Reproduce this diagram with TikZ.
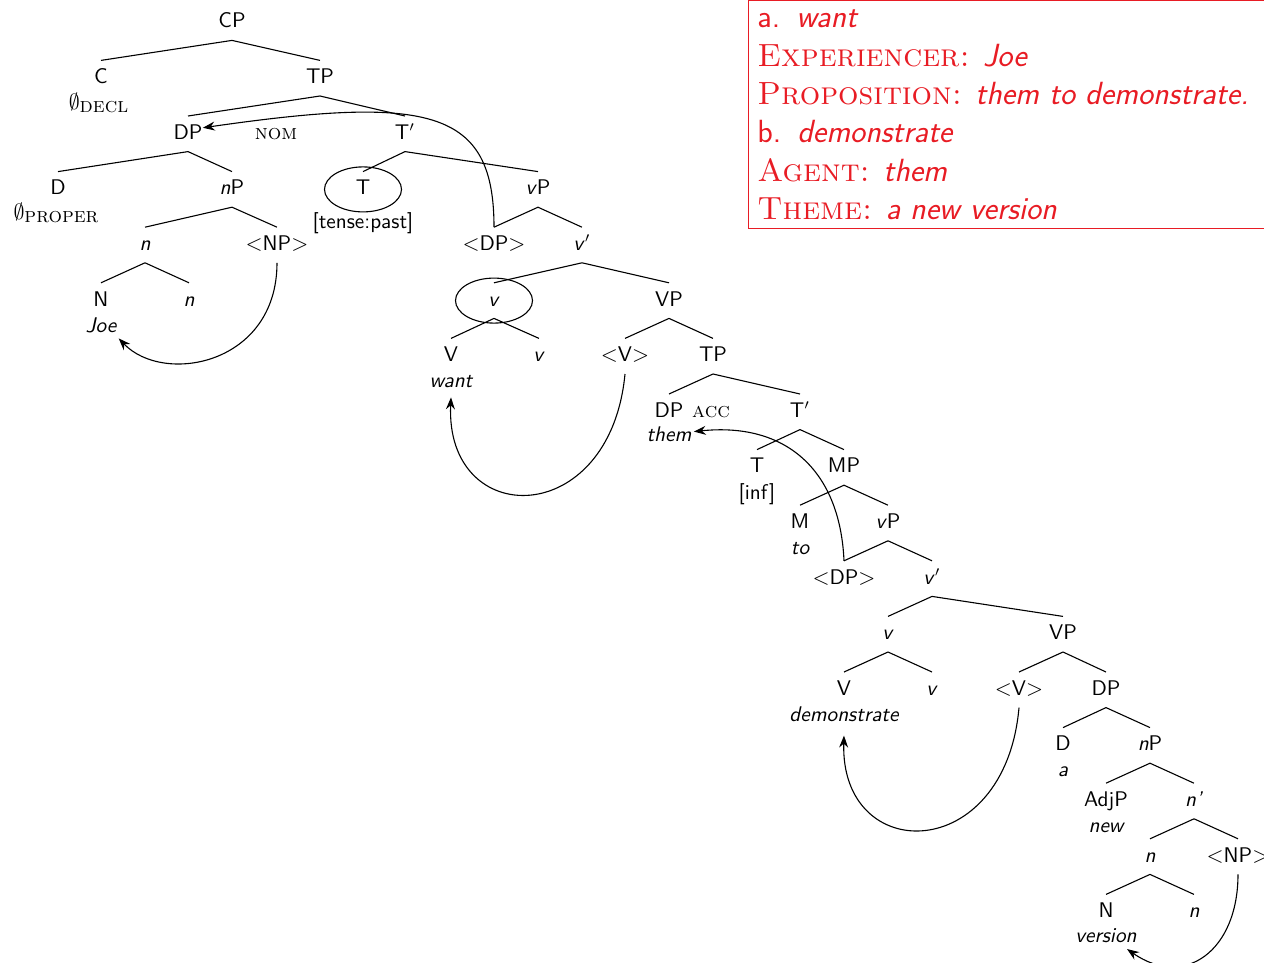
\documentclass[tikz,border=0pt]{standalone}
\usetikzlibrary{shapes.geometric,arrows.meta}
\definecolor{boxred}{RGB}{232,28,36}
\newcommand\treefont{\fontsize{10.6}{12.7}\selectfont\sffamily}
\newcommand\boxfont{\fontsize{16.05}{19}\selectfont\sffamily}
\newcommand\mysc[1]{{\rmfamily\scshape #1}}
\tikzset{
  w/.style={font=\treefont, inner xsep=0pt, inner ysep=4pt, text height=7.4pt, text depth=2pt, anchor=base},
  lex/.style={font=\treefont\itshape, inner sep=1pt, text height=7.4pt, text depth=2pt, anchor=base},
  lexu/.style={font=\treefont, inner sep=1pt, anchor=base},
  br/.style={line width=0.55pt},
  mv/.style={line width=0.55pt, -{Stealth[length=6pt,width=4.5pt,inset=2pt]}},
  circ/.style={draw, ellipse, line width=0.55pt, minimum width=38.5pt, minimum height=22.5pt, inner sep=0pt},
  rl/.style={font=\boxfont, text=boxred, anchor=base west, inner sep=0pt},
}
\begin{document}
\begin{tikzpicture}[x=0.5pt,y=-0.5pt]
\useasboundingbox (0,0) rectangle (1264,963);
% level 0-1
\node[w] (CP) at (232,28) {CP};
\node[w] (C) at (101,83.6) {C};
\node[w] (TP) at (320,83.6) {TP};
\node[lexu] (decl) at (98.5,110) {$\emptyset$\raisebox{-1.2pt}{\mysc{decl}}};
% level 2
\node[w] (DP) at (188,139.2) {DP};
\node[lexu] (nom) at (276,139.2) {\mysc{nom}};
\node[w] (Tb) at (405,139.2) {T$'$};
% level 3
\node[w] (D) at (58,194.8) {D};
\node[w] (nP) at (232,194.8) {\textit{n}P};
\node[w] (T) at (363,194.8) {T};
\node[circ] (Tcirc) at (T.center) {};
\node[w] (vP) at (538,194.8) {\textit{v}P};
\node[lexu] (proper) at (56,220) {$\emptyset$\raisebox{-1.2pt}{\mysc{proper}}};
\node[lexu] (tense) at (363,228) {[tense:past]};
% level 4
\node[w] (n1) at (145,250.4) {\textit{n}};
\node[w] (NPt) at (277,250.4) {$<$NP$>$};
\node[w] (DPt) at (494,250.4) {$<$DP$>$};
\node[w] (vb) at (582,250.4) {\textit{v}$'$};
% level 5
\node[w] (N1) at (101,306) {N};
\node[w] (n2) at (189,306) {\textit{n}};
\node[w] (v1) at (494,306) {\textit{v}};
\node[circ] (vcirc) at (v1.center) {};
\node[w] (VP) at (669,306) {VP};
\node[lex] (joe) at (101,332) {Joe};
% level 6
\node[w] (V1) at (451,361.6) {V};
\node[w] (v2) at (539,361.6) {\textit{v}};
\node[w] (Vt) at (625,361.6) {$<$V$>$};
\node[w] (TP2) at (713,361.6) {TP};
\node[lex] (want) at (451,387) {want};
% level 7
\node[w] (DP2) at (669,417.2) {DP};
\node[lexu] (acc) at (711,417.2) {\mysc{acc}};
\node[w] (Tb2) at (800,417.2) {T$'$};
\node[lex] (them) at (669,441) {them};
% level 8
\node[w] (T2) at (757,472.8) {T};
\node[w] (MP) at (844,472.8) {MP};
\node[lexu] (inf) at (757,499) {[inf]};
% level 9
\node[w] (M) at (800,528.4) {M};
\node[w] (vP2) at (888,528.4) {\textit{v}P};
\node[lex] (to) at (800,554.4) {to};
% level 10
\node[w] (DPt2) at (844,584) {$<$DP$>$};
\node[w] (vb2) at (932,584) {\textit{v}$'$};
% level 11
\node[w] (v3) at (888,639.6) {\textit{v}};
\node[w] (VP2) at (1063,639.6) {VP};
% level 12
\node[w] (V2) at (844,695.2) {V};
\node[w] (v4) at (932,695.2) {\textit{v}};
\node[w] (Vt2) at (1019,695.2) {$<$V$>$};
\node[w] (DP3) at (1106,695.2) {DP};
\node[lex] (demo) at (844,721.2) {demonstrate};
% level 13
\node[w] (D2) at (1063,750.8) {D};
\node[w] (nP2) at (1150,750.8) {\textit{n}P};
\node[lex] (art) at (1063,776.8) {a};
% level 14
\node[w] (AdjP) at (1106,806.4) {AdjP};
\node[w] (nb) at (1194,806.4) {\textit{n'}};
\node[lex] (new) at (1106,832.4) {new};
% level 15
\node[w] (n3) at (1150,862) {\textit{n}};
\node[w] (NPt2) at (1238,862) {$<$NP$>$};
% level 16
\node[w] (N2) at (1106,917.6) {N};
\node[w] (n4) at (1194,917.6) {\textit{n}};
\node[lex] (version) at (1106,942.6) {version};
% branches
\foreach \p/\c in {CP/C, CP/TP, TP/DP, TP/Tb, DP/D, DP/nP, Tb/T, Tb/vP,
  nP/n1, nP/NPt, vP/DPt, vP/vb, n1/N1, n1/n2, vb/v1, vb/VP, v1/V1, v1/v2,
  VP/Vt, VP/TP2, TP2/DP2, TP2/Tb2, Tb2/T2, Tb2/MP, MP/M, MP/vP2,
  vP2/DPt2, vP2/vb2, vb2/v3, vb2/VP2, v3/V2, v3/v4, VP2/Vt2, VP2/DP3,
  DP3/D2, DP3/nP2, nP2/AdjP, nP2/nb, nb/n3, nb/NPt2, n3/N2, n3/n4}
  \draw[br] (\p.south) -- (\c.north);
% movement arrows
\draw[mv] (NPt.south) .. controls +(0,102) and +(45,47) .. (joe.south east);
\draw[mv] (DPt.north) .. controls +(0,-117.6) and +(228,-33) .. ([yshift=3pt]DP.east);
\draw[mv] (Vt.south) .. controls +(-15,156.4) and +(-6,133) .. ([yshift=-2pt]want.south);
\draw[mv] (DPt2.north) .. controls +(-4,-91.2) and +(91.6,-9.6) .. ([yshift=2pt]them.east);
\draw[mv] (Vt2.south) .. controls +(-14,157.8) and +(-4,130.3) .. ([yshift=-4pt]demo.south);
\draw[mv] (NPt2.south) .. controls +(0,76) and +(58,40.4) .. ([xshift=10.5pt]version.south);
% red box
\draw[boxred, line width=0.5pt] (748,1) rectangle (1300,228.5);
\node[rl] (r1) at (757,28) {a.\hspace{0.5em}\textit{want}};
\node[rl] (r2) at (757,66.3) {\mysc{Experiencer:} \textit{Joe}};
\node[rl] (r3) at (757,104.6) {\mysc{Proposition:} \textit{them to demonstrate.}};
\node[rl] (r4) at (757,142.9) {b.\hspace{0.5em}\textit{demonstrate}};
\node[rl] (r5) at (757,181.2) {\mysc{Agent:} \textit{them}};
\node[rl] (r6) at (757,219.5) {\mysc{Theme:} \textit{a new version}};
\end{tikzpicture}
\end{document}
